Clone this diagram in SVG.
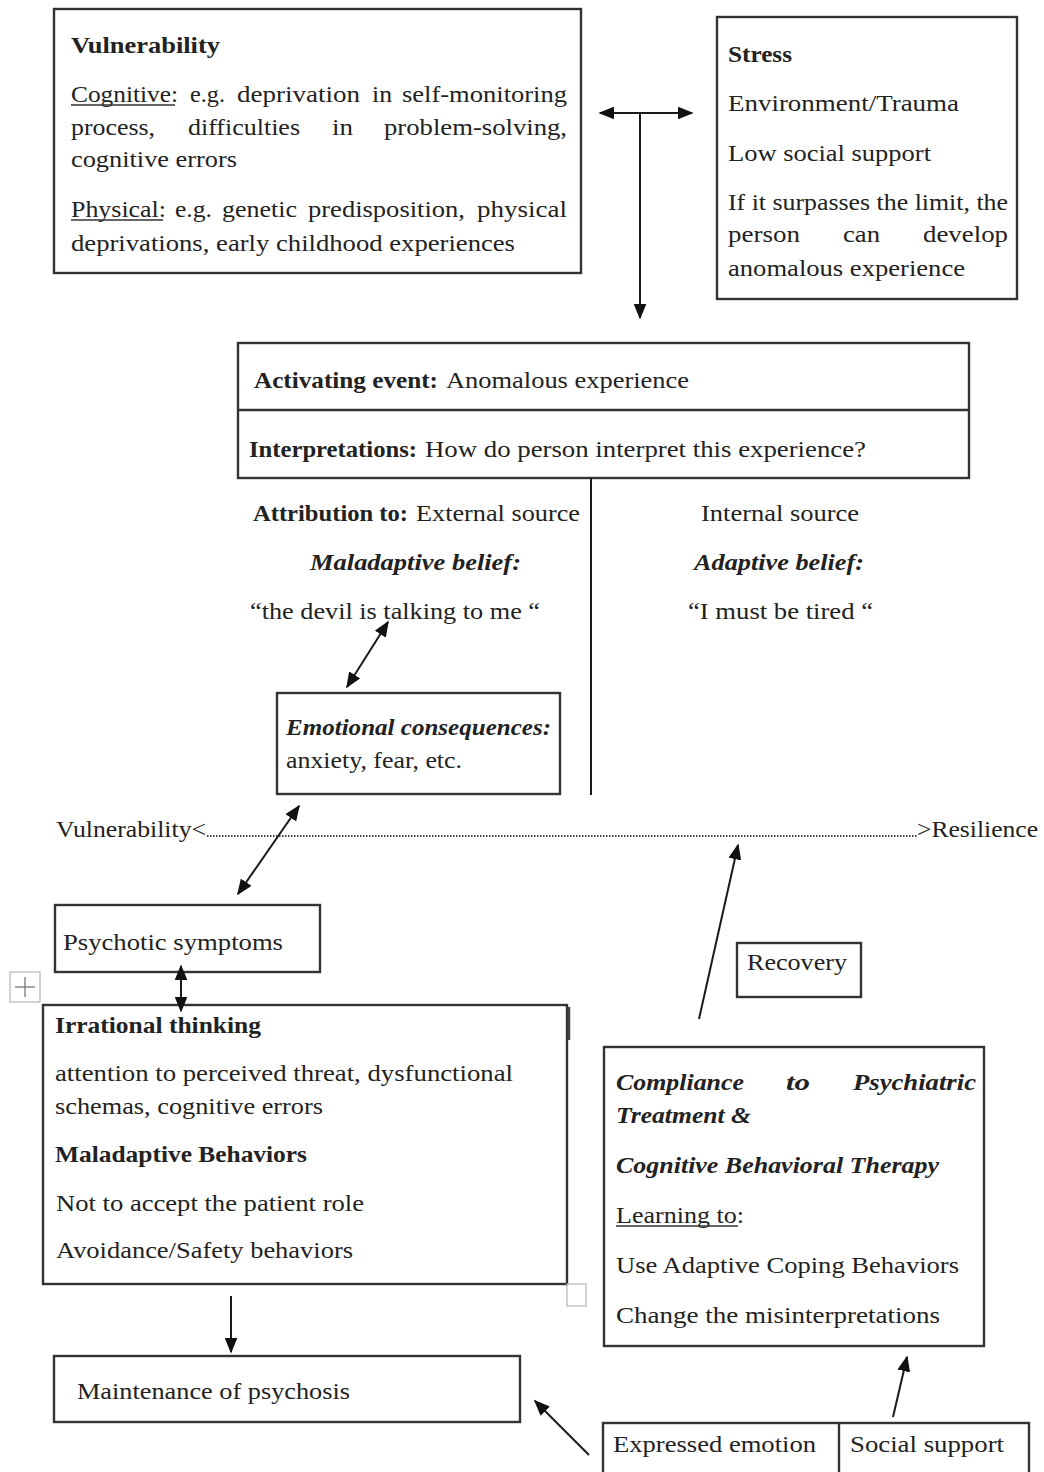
<svg xmlns="http://www.w3.org/2000/svg" width="1044" height="1472" viewBox="0 0 1044 1472">
<style>
.t{font-family:"Liberation Serif","Times New Roman",serif;font-size:24px;fill:#222}
.b{font-weight:bold}
.i{font-style:italic;font-weight:bold}
.box{fill:#fff;stroke:#333;stroke-width:2.4}
.ln{stroke:#1a1a1a;stroke-width:2;fill:none}
.ul{stroke:#333;stroke-width:1.3}
.gh{fill:none;stroke:#bbb;stroke-width:1.3}
</style>
<defs>
<marker id="ah" viewBox="0 0 10 10" refX="9" refY="5" markerWidth="16" markerHeight="13" markerUnits="userSpaceOnUse" orient="auto-start-reverse" preserveAspectRatio="none">
<path d="M0,0 L10,5 L0,10 z" fill="#111"/>
</marker>
</defs>
<rect width="1044" height="1472" fill="#fff"/>

<g id="vulnerability">
<rect class="box" x="54" y="9" width="527" height="264"/>
<text class="t b" x="71" y="53" textLength="149" lengthAdjust="spacingAndGlyphs">Vulnerability</text>
<text class="t" x="71" y="102" textLength="107" lengthAdjust="spacingAndGlyphs">Cognitive:</text>
<line class="ul" x1="71" y1="105" x2="175" y2="105"/>
<text class="t" x="190" y="102" textLength="35" lengthAdjust="spacingAndGlyphs">e.g.</text>
<text class="t" x="237" y="102" textLength="123" lengthAdjust="spacingAndGlyphs">deprivation</text>
<text class="t" x="372" y="102" textLength="20" lengthAdjust="spacingAndGlyphs">in</text>
<text class="t" x="402" y="102" textLength="165" lengthAdjust="spacingAndGlyphs">self-monitoring</text>
<text class="t" x="71" y="135" textLength="84" lengthAdjust="spacingAndGlyphs">process,</text>
<text class="t" x="188" y="135" textLength="112" lengthAdjust="spacingAndGlyphs">difficulties</text>
<text class="t" x="332" y="135" textLength="21" lengthAdjust="spacingAndGlyphs">in</text>
<text class="t" x="384" y="135" textLength="183" lengthAdjust="spacingAndGlyphs">problem-solving,</text>
<text class="t" x="71" y="167" textLength="166" lengthAdjust="spacingAndGlyphs">cognitive errors</text>
<text class="t" x="71" y="217" textLength="95" lengthAdjust="spacingAndGlyphs">Physical:</text>
<line class="ul" x1="71" y1="220" x2="163" y2="220"/>
<text class="t" x="175" y="217" textLength="37" lengthAdjust="spacingAndGlyphs">e.g.</text>
<text class="t" x="222" y="217" textLength="75" lengthAdjust="spacingAndGlyphs">genetic</text>
<text class="t" x="308" y="217" textLength="157" lengthAdjust="spacingAndGlyphs">predisposition,</text>
<text class="t" x="477" y="217" textLength="90" lengthAdjust="spacingAndGlyphs">physical</text>
<text class="t" x="71" y="251" textLength="444" lengthAdjust="spacingAndGlyphs">deprivations, early childhood experiences</text>
</g>

<g id="stress">
<rect class="box" x="717" y="17" width="300" height="282"/>
<text class="t b" x="728" y="62" textLength="64" lengthAdjust="spacingAndGlyphs">Stress</text>
<text class="t" x="728" y="111" textLength="231" lengthAdjust="spacingAndGlyphs">Environment/Trauma</text>
<text class="t" x="728" y="161" textLength="203" lengthAdjust="spacingAndGlyphs">Low social support</text>
<text class="t" x="728" y="210" textLength="280" lengthAdjust="spacingAndGlyphs">If it surpasses the limit, the</text>
<text class="t" x="728" y="242" textLength="72" lengthAdjust="spacingAndGlyphs">person</text>
<text class="t" x="843" y="242" textLength="37" lengthAdjust="spacingAndGlyphs">can</text>
<text class="t" x="923" y="242" textLength="85" lengthAdjust="spacingAndGlyphs">develop</text>
<text class="t" x="728" y="276" textLength="237" lengthAdjust="spacingAndGlyphs">anomalous experience</text>
</g>

<g id="activating-event">
<rect class="box" x="238" y="343" width="731" height="135"/>
<line class="box" x1="238" y1="410" x2="969" y2="410"/>
<text class="t b" x="254" y="388" textLength="184" lengthAdjust="spacingAndGlyphs">Activating event:</text>
<text class="t" x="446" y="388" textLength="243" lengthAdjust="spacingAndGlyphs">Anomalous experience</text>
<text class="t b" x="249" y="457" textLength="168" lengthAdjust="spacingAndGlyphs">Interpretations:</text>
<text class="t" x="425" y="457" textLength="441" lengthAdjust="spacingAndGlyphs">How do person interpret this experience?</text>
</g>

<g id="external-attribution">
<text class="t b" x="253" y="521" textLength="155" lengthAdjust="spacingAndGlyphs">Attribution to:</text>
<text class="t" x="416" y="521" textLength="164" lengthAdjust="spacingAndGlyphs">External source</text>
<text class="t i" x="310" y="570" textLength="211" lengthAdjust="spacingAndGlyphs">Maladaptive belief:</text>
<text class="t" x="250" y="619" textLength="290" lengthAdjust="spacingAndGlyphs">“the devil is talking to me “</text>
</g>

<g id="internal-attribution">
<text class="t" x="701" y="521" textLength="158" lengthAdjust="spacingAndGlyphs">Internal source</text>
<text class="t i" x="694" y="570" textLength="170" lengthAdjust="spacingAndGlyphs">Adaptive belief:</text>
<text class="t" x="688" y="619" textLength="185" lengthAdjust="spacingAndGlyphs">“I must be tired “</text>
</g>

<g id="emotional-consequences">
<rect class="box" x="277" y="693" width="283" height="101"/>
<text class="t i" x="286" y="735" textLength="265" lengthAdjust="spacingAndGlyphs">Emotional consequences:</text>
<text class="t" x="286" y="768" textLength="176" lengthAdjust="spacingAndGlyphs">anxiety, fear, etc.</text>
</g>

<g id="scale">
<text class="t" x="56" y="837" textLength="150" lengthAdjust="spacingAndGlyphs">Vulnerability&lt;</text>
<line x1="207" y1="836" x2="917" y2="836" stroke="#444" stroke-width="1.8" stroke-dasharray="1.5 1.5"/>
<text class="t" x="917" y="837" textLength="121" lengthAdjust="spacingAndGlyphs">&gt;Resilience</text>
</g>

<g id="psychotic-symptoms">
<rect class="box" x="55" y="905" width="265" height="67"/>
<text class="t" x="63" y="950" textLength="220" lengthAdjust="spacingAndGlyphs">Psychotic symptoms</text>
</g>

<g id="move-handle">
<rect class="gh" x="10" y="972" width="30" height="30"/>
<line x1="15" y1="987" x2="35" y2="987" stroke="#777" stroke-width="1.3"/>
<line x1="25" y1="977" x2="25" y2="997" stroke="#777" stroke-width="1.3"/>
</g>

<g id="irrational-thinking">
<rect class="box" x="43" y="1005" width="524" height="279"/>
<line x1="569" y1="1007" x2="569" y2="1040" stroke="#444" stroke-width="2.5"/>
<text class="t b" x="55" y="1033" textLength="206" lengthAdjust="spacingAndGlyphs">Irrational thinking</text>
<text class="t" x="55" y="1081" textLength="458" lengthAdjust="spacingAndGlyphs">attention to perceived threat, dysfunctional</text>
<text class="t" x="55" y="1114" textLength="268" lengthAdjust="spacingAndGlyphs">schemas, cognitive errors</text>
<text class="t b" x="55" y="1162" textLength="252" lengthAdjust="spacingAndGlyphs">Maladaptive Behaviors</text>
<text class="t" x="56" y="1211" textLength="308" lengthAdjust="spacingAndGlyphs">Not to accept the patient role</text>
<text class="t" x="56" y="1258" textLength="297" lengthAdjust="spacingAndGlyphs">Avoidance/Safety behaviors</text>
</g>

<g id="resize-handle">
<rect class="gh" x="567" y="1284" width="19" height="22"/>
</g>

<g id="maintenance">
<rect class="box" x="54" y="1356" width="466" height="66"/>
<text class="t" x="77" y="1399" textLength="273" lengthAdjust="spacingAndGlyphs">Maintenance of psychosis</text>
</g>

<g id="recovery">
<rect class="box" x="737" y="943" width="124" height="54"/>
<text class="t" x="747" y="970" textLength="100" lengthAdjust="spacingAndGlyphs">Recovery</text>
</g>

<g id="treatment">
<rect class="box" x="604" y="1047" width="380" height="299"/>
<text class="t i" x="616" y="1090" textLength="128" lengthAdjust="spacingAndGlyphs">Compliance</text>
<text class="t i" x="786" y="1090" textLength="24" lengthAdjust="spacingAndGlyphs">to</text>
<text class="t i" x="853" y="1090" textLength="123" lengthAdjust="spacingAndGlyphs">Psychiatric</text>
<text class="t i" x="616" y="1123" textLength="135" lengthAdjust="spacingAndGlyphs">Treatment &amp;</text>
<text class="t i" x="616" y="1173" textLength="323" lengthAdjust="spacingAndGlyphs">Cognitive Behavioral Therapy</text>
<text class="t" x="616" y="1223" textLength="128" lengthAdjust="spacingAndGlyphs">Learning to:</text>
<line class="ul" x1="616" y1="1226" x2="738" y2="1226"/>
<text class="t" x="616" y="1273" textLength="343" lengthAdjust="spacingAndGlyphs">Use Adaptive Coping Behaviors</text>
<text class="t" x="616" y="1323" textLength="324" lengthAdjust="spacingAndGlyphs">Change the misinterpretations</text>
</g>

<g id="social-factors">
<rect class="box" x="603" y="1423" width="426" height="60"/>
<line class="box" x1="839" y1="1423" x2="839" y2="1474"/>
<text class="t" x="613" y="1452" textLength="203" lengthAdjust="spacingAndGlyphs">Expressed emotion</text>
<text class="t" x="850" y="1452" textLength="154" lengthAdjust="spacingAndGlyphs">Social support</text>
</g>

<g id="connectors">
<line class="ln" x1="600" y1="113" x2="692" y2="113" marker-start="url(#ah)" marker-end="url(#ah)"/>
<line class="ln" x1="640" y1="113" x2="640" y2="318" marker-end="url(#ah)"/>
<line class="ln" x1="591" y1="478" x2="591" y2="795"/>
<line class="ln" x1="388" y1="622" x2="347" y2="687" marker-start="url(#ah)" marker-end="url(#ah)"/>
<line class="ln" x1="299" y1="806" x2="238" y2="894" marker-start="url(#ah)" marker-end="url(#ah)"/>
<line class="ln" x1="181" y1="966" x2="181" y2="1011" marker-start="url(#ah)" marker-end="url(#ah)"/>
<line class="ln" x1="231" y1="1296" x2="231" y2="1352" marker-end="url(#ah)"/>
<line class="ln" x1="699" y1="1019" x2="738" y2="845" marker-end="url(#ah)"/>
<line class="ln" x1="589" y1="1455" x2="535" y2="1401" marker-end="url(#ah)"/>
<line class="ln" x1="893" y1="1417" x2="907" y2="1357" marker-end="url(#ah)"/>
</g>
</svg>
